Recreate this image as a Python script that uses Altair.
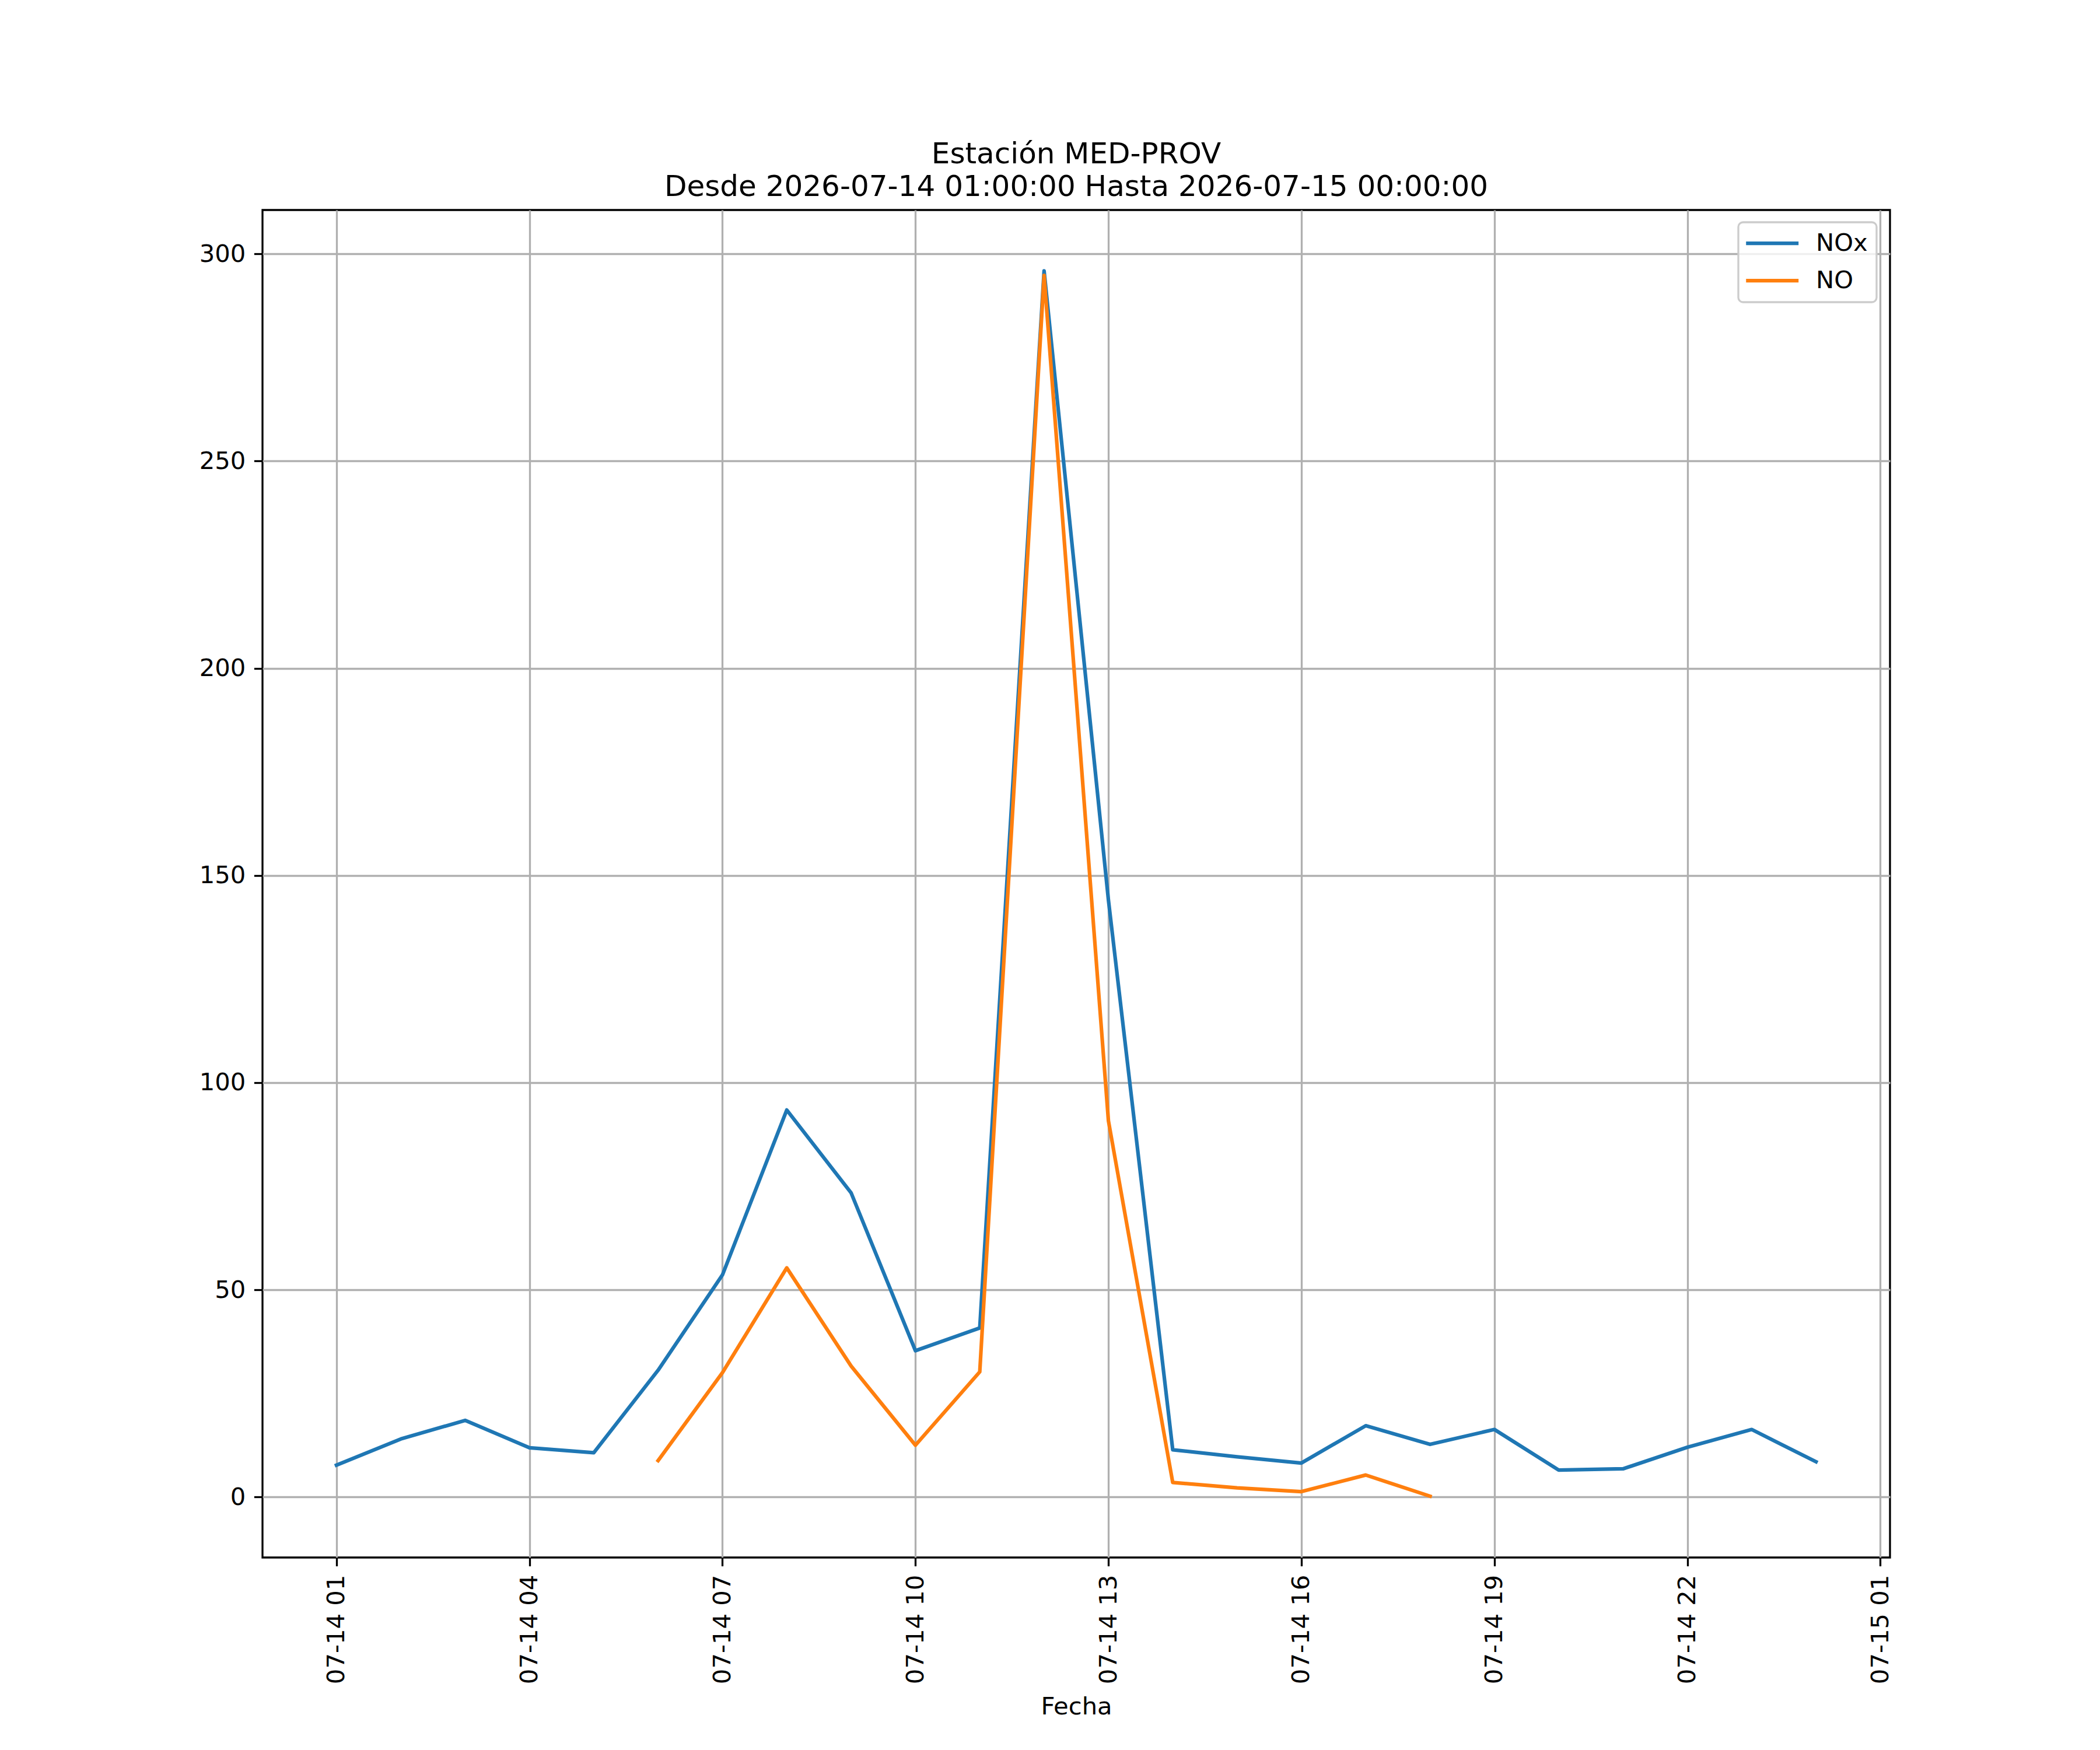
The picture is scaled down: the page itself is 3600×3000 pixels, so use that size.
"""Serie horaria de NOx y NO para la estación MED-PROV."""

import pandas as pd
import altair as alt

# horas de medición (UTC)
horas = [f"2026-07-14T{h:02d}:00:00Z" for h in range(1, 24)] + ["2026-07-15T00:00:00Z"]

nox = [7.7, 14.0, 18.5, 11.9, 10.7, 30.6, 53.6, 93.4, 73.4, 35.3, 40.8, 295.9,
       144.1, 11.4, 9.7, 8.2, 17.2, 12.7, 16.3, 6.5, 6.8, 12.0, 16.3, 8.5]
no = [None, None, None, None, None, 8.8, 30.0, 55.3, 31.6, 12.5, 30.2, 294.8,
      90.8, 3.5, 2.2, 1.3, 5.3, 0.2, None, None, None, None, None, None]

series = ["NOx", "NO"]
colores = ["#1f77b4", "#ff7f0e"]
ticks_y = [0, 50, 100, 150, 200, 250, 300]
ticks_x = [(14, h) for h in range(1, 24, 3)] + [(15, 1)]

FONT = "DejaVu Sans"
FS = 41.7

df = pd.concat([
    pd.DataFrame({"fecha": horas, "valor": nox, "serie": "NOx"}),
    pd.DataFrame({"fecha": horas, "valor": no, "serie": "NO"}),
]).dropna(subset=["valor"])


def create_line_chart(df: pd.DataFrame) -> alt.LayerChart:
    """Returns the layered line chart of both pollutants."""
    base = alt.Chart(df).mark_line(
        strokeWidth=6.25, strokeJoin="round", strokeCap="square"
    ).encode(
        x=alt.X("fecha:T", title="Fecha",
                scale=alt.Scale(type="utc", nice=False, domain=[
                    alt.DateTime(year=2026, month=7, date=13, hours=23, minutes=51, utc=True),
                    alt.DateTime(year=2026, month=7, date=15, hours=1, minutes=9, utc=True)]),
                axis=alt.Axis(values=[alt.DateTime(year=2026, month=7, date=d, hours=h, utc=True)
                                      for d, h in ticks_x],
                              format="%m-%d %H", labelAngle=270, labelLimit=600,
                              titlePadding=35)),
        y=alt.Y("valor:Q", title=None,
                scale=alt.Scale(domain=[-14.6, 310.6], nice=False, zero=False),
                axis=alt.Axis(values=ticks_y)),
        color=alt.Color("serie:N", title=None,
                        scale=alt.Scale(domain=series, range=colores),
                        legend=alt.Legend(orient="none", legendX=2530, legendY=21,
                                          symbolType="M-1.3,0H3.84", symbolSize=1225,
                                          symbolStrokeWidth=6.25, rowPadding=21,
                                          labelOffset=76, padding=15,
                                          fillColor="rgba(255,255,255,0.8)",
                                          strokeColor="#cccccc", cornerRadius=8)),
    )

    nox_line = base.transform_filter(alt.datum.serie == "NOx")
    no_line = base.transform_filter(alt.datum.serie == "NO")
    return alt.layer(nox_line, no_line)


chart = create_line_chart(df).properties(
    width=2790,
    height=2310,
    autosize=alt.AutoSizeParams(type="none"),
    padding={"left": 442, "top": 352, "right": 352, "bottom": 322},
    background="white",
    title=alt.TitleParams(
        text=["Estación MED-PROV", "Desde 2026-07-14 01:00:00 Hasta 2026-07-15 00:00:00"],
        fontSize=50, font=FONT, fontWeight="normal", color="black",
        anchor="middle", frame="group", baseline="bottom", lineHeight=56,
        offset=14, dy=50),
).configure_axis(
    labelFont=FONT, labelFontSize=FS, labelColor="black", labelPadding=14.6,
    tickSize=14.6, tickWidth=3.3, tickColor="black",
    grid=True, gridColor="#b0b0b0", gridWidth=3.3, domain=False,
    titleFont=FONT, titleFontSize=FS, titleFontWeight="normal", titleColor="black",
    titlePadding=10, labelOverlap=False, labelFlush=False,
).configure_legend(
    labelFont=FONT, labelFontSize=FS, labelColor="black", strokeWidth=3.3,
).configure_view(
    stroke="black", strokeWidth=3.3,
)

chart.save("out.html", embed_options={"renderer": "svg", "actions": False})
